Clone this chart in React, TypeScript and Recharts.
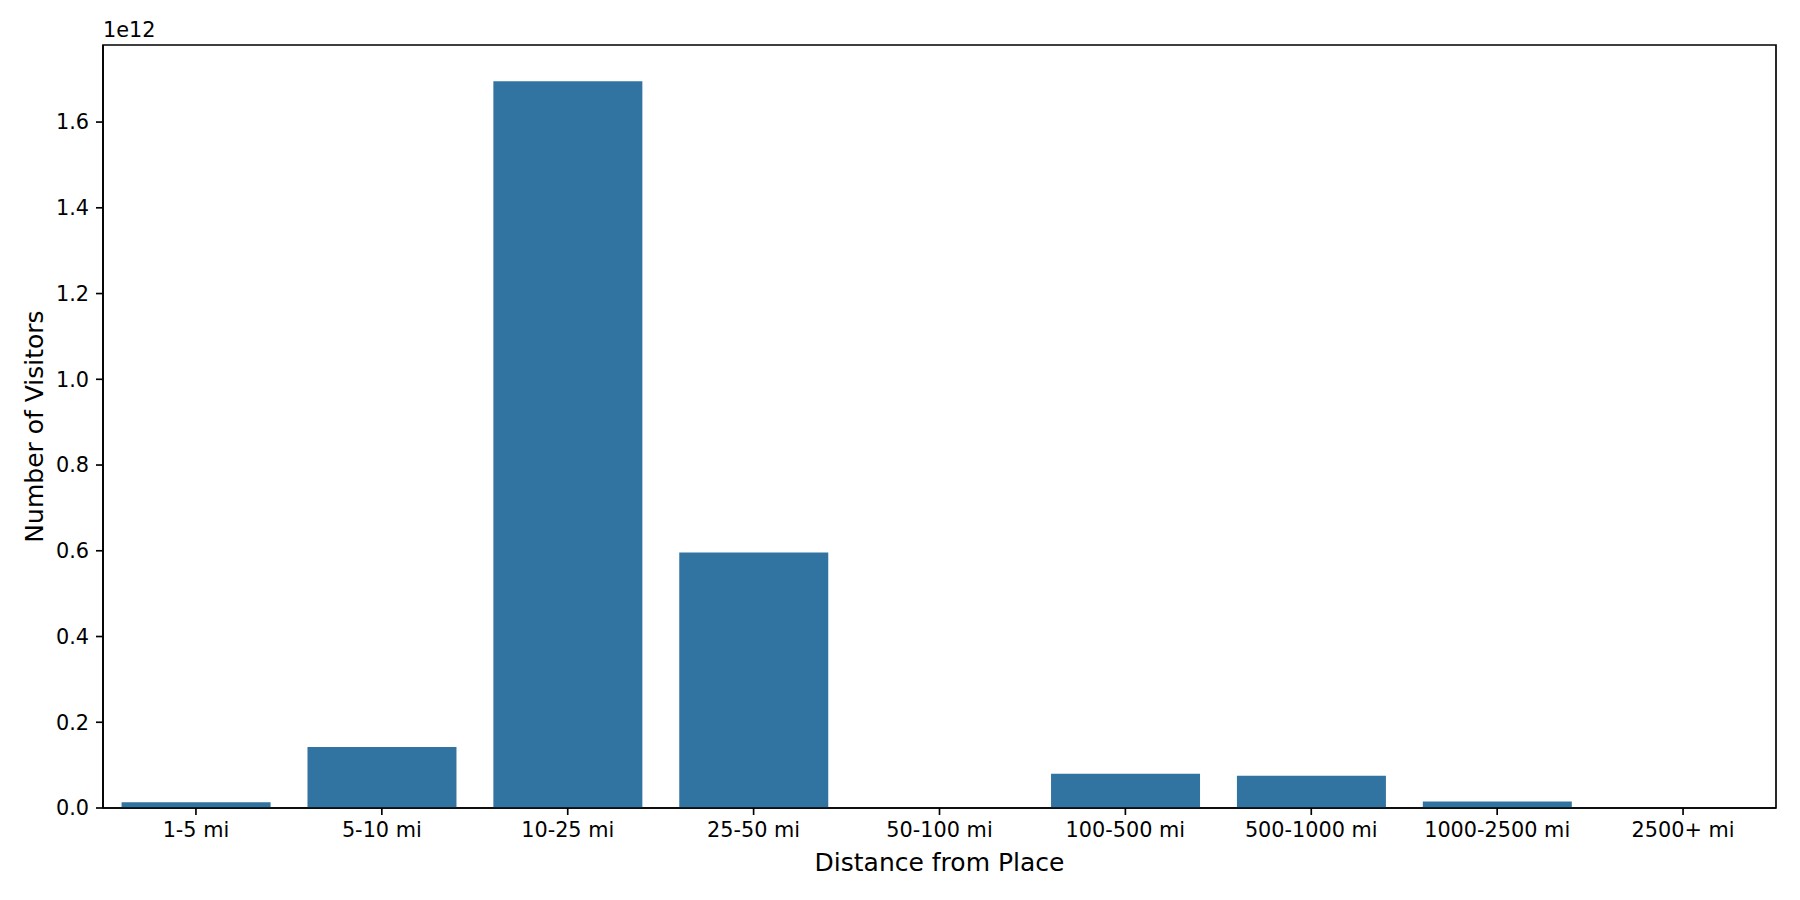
import React from 'react';
import { BarChart, Bar, XAxis, YAxis, Label, ReferenceArea } from 'recharts';

const categories = [
  '1-5 mi',
  '5-10 mi',
  '10-25 mi',
  '25-50 mi',
  '50-100 mi',
  '100-500 mi',
  '500-1000 mi',
  '1000-2500 mi',
  '2500+ mi',
];

const visitors = [
  0.0132e12,
  0.142e12,
  1.695e12,
  0.596e12,
  0,
  0.0796e12,
  0.0755e12,
  0.0153e12,
  0,
];

const yTicks = [0, 0.2e12, 0.4e12, 0.6e12, 0.8e12, 1.0e12, 1.2e12, 1.4e12, 1.6e12];
const yMax = 1.695e12 * 1.05;

const data = categories.map((c, i) => ({ category: c, visitors: visitors[i] }));

const FONT = 'DejaVu Sans, sans-serif';
const AXIS_COLOR = '#000000';
const SPINE_W = 1.67;

const tickStyle = { fill: '#000000', fontSize: 20.8, fontFamily: FONT };

export default function App() {
  return (
    <div style={{ position: 'absolute', left: 0, top: 0, width: 1800, height: 900, background: '#ffffff' }}>
      <BarChart
        width={1800}
        height={900}
        data={data}
        margin={{ top: 45, right: 24, bottom: 0, left: 0 }}
        barCategoryGap="10%"
      >
        <XAxis
          dataKey="category"
          height={92}
          interval={0}
          tickSize={7}
          tickMargin={7}
          tick={tickStyle}
          axisLine={{ stroke: AXIS_COLOR, strokeWidth: SPINE_W }}
          tickLine={{ stroke: AXIS_COLOR, strokeWidth: SPINE_W }}
        >
          <Label
            content={(props: any) => {
              const vb = props.viewBox || {};
              return (
                <text
                  x={vb.x + vb.width / 2}
                  y={871}
                  textAnchor="middle"
                  fontSize={25}
                  fontFamily={FONT}
                  fill="#000000"
                >
                  Distance from Place
                </text>
              );
            }}
          />
        </XAxis>
        <YAxis
          type="number"
          width={103}
          domain={[0, yMax]}
          ticks={yTicks}
          allowDataOverflow
          tickFormatter={(v: number) => (v / 1e12).toFixed(1)}
          tickSize={7}
          tickMargin={7}
          tick={tickStyle}
          axisLine={{ stroke: AXIS_COLOR, strokeWidth: SPINE_W }}
          tickLine={{ stroke: AXIS_COLOR, strokeWidth: SPINE_W }}
        >
          <Label
            content={(props: any) => {
              const vb = props.viewBox || {};
              const cy = vb.y + vb.height / 2;
              return (
                <g>
                  <text
                    x={42.5}
                    y={cy}
                    transform={`rotate(-90, 42.5, ${cy})`}
                    textAnchor="middle"
                    fontSize={25}
                    fontFamily={FONT}
                    fill="#000000"
                  >
                    Number of Visitors
                  </text>
                  <text
                    x={vb.x + vb.width}
                    y={36.5}
                    textAnchor="start"
                    fontSize={20.8}
                    fontFamily={FONT}
                    fill="#000000"
                  >
                    1e12
                  </text>
                </g>
              );
            }}
          />
        </YAxis>
        <Bar dataKey="visitors" fill="#3274a1" isAnimationActive={false} />
        <ReferenceArea
          x1={categories[0]}
          x2={categories[categories.length - 1]}
          y1={0}
          y2={yMax}
          fill="none"
          fillOpacity={0}
          stroke={AXIS_COLOR}
          strokeWidth={SPINE_W}
          ifOverflow="visible"
        />
      </BarChart>
    </div>
  );
}
